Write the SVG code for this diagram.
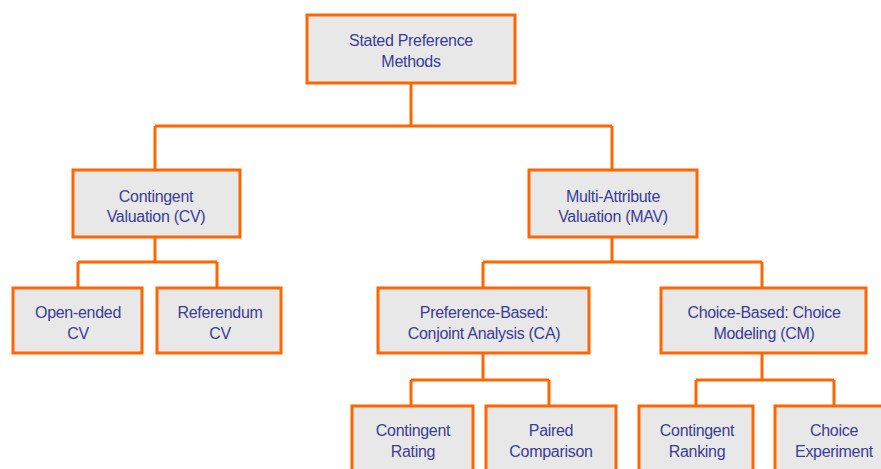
<svg xmlns="http://www.w3.org/2000/svg" width="881" height="469" viewBox="0 0 881 469">
<style>
.box{fill:#e8e8e8;stroke:#ff6600;stroke-width:3}
.lbl{font-family:"Liberation Sans",Arial,sans-serif;font-size:16px;fill:#3c3c96;text-anchor:middle;letter-spacing:-0.3px}
.con{fill:none;stroke:#ff6600;stroke-width:3}
</style>
<rect width="881" height="469" fill="#ffffff"/>
<g id="connectors">
<path class="con" d="M411,83 V126 M155,126 H612 M155,126 V170 M612,126 V170"/>
<path class="con" d="M155,237 V262 M78,262 H217 M78,262 V288 M217,262 V288"/>
<path class="con" d="M612,237 V262 M483,262 H762 M483,262 V288 M762,262 V288"/>
<path class="con" d="M483,353 V380 M411,380 H549 M411,380 V406 M549,380 V406"/>
<path class="con" d="M762,353 V380 M696,380 H834 M696,380 V406 M834,380 V406"/>
</g>
<g id="root"><rect class="box" x="307" y="15" width="208" height="68"/><text class="lbl" x="411" y="46">Stated Preference</text><text class="lbl" x="411" y="67">Methods</text></g>
<g id="cv"><rect class="box" x="73" y="170" width="167" height="67"/><text class="lbl" x="156" y="202">Contingent</text><text class="lbl" x="156" y="222">Valuation (CV)</text></g>
<g id="mav"><rect class="box" x="529" y="170" width="168" height="67"/><text class="lbl" x="613" y="202">Multi-Attribute</text><text class="lbl" x="613" y="222">Valuation (MAV)</text></g>
<g id="openended"><rect class="box" x="13" y="288" width="129" height="65"/><text class="lbl" x="78" y="318">Open-ended</text><text class="lbl" x="78" y="339">CV</text></g>
<g id="referendum"><rect class="box" x="157" y="288" width="124" height="65"/><text class="lbl" x="220" y="318">Referendum</text><text class="lbl" x="220" y="339">CV</text></g>
<g id="ca"><rect class="box" x="378" y="288" width="211" height="65"/><text class="lbl" x="484" y="318">Preference-Based:</text><text class="lbl" x="484" y="339">Conjoint Analysis (CA)</text></g>
<g id="cm"><rect class="box" x="661" y="288" width="205" height="65"/><text class="lbl" x="764" y="318">Choice-Based: Choice</text><text class="lbl" x="764" y="339">Modeling (CM)</text></g>
<g id="rating"><rect class="box" x="352" y="406" width="121" height="70"/><text class="lbl" x="413" y="436">Contingent</text><text class="lbl" x="413" y="457">Rating</text></g>
<g id="paired"><rect class="box" x="486" y="406" width="130" height="70"/><text class="lbl" x="551" y="436">Paired</text><text class="lbl" x="551" y="457">Comparison</text></g>
<g id="ranking"><rect class="box" x="639" y="406" width="114" height="70"/><text class="lbl" x="697" y="436">Contingent</text><text class="lbl" x="697" y="457">Ranking</text></g>
<g id="experiment"><rect class="box" x="775" y="406" width="118" height="70"/><text class="lbl" x="834" y="436">Choice</text><text class="lbl" x="834" y="457">Experiment</text></g>
</svg>
